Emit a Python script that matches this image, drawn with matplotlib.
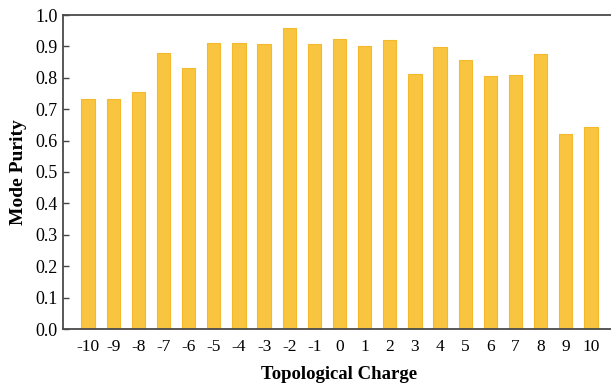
import matplotlib
matplotlib.use('Agg')
from matplotlib import pyplot as plt

# data
charges = list(range(-10, 11))
tick_labels = [str(c) for c in charges]
purity = [0.731, 0.732, 0.755, 0.878, 0.831, 0.910, 0.910, 0.909, 0.960, 0.909,
          0.924, 0.902, 0.920, 0.813, 0.898, 0.858, 0.805, 0.809, 0.876, 0.622, 0.644]

plt.rcParams['font.family'] = ['Liberation Serif', 'DejaVu Serif']

fig = plt.figure(figsize=(6.11, 3.87), dpi=100)
# axes runs a little past the right edge, as in the cropped original
ax = fig.add_axes([63 / 611, 58 / 387, 553 / 611, 314 / 387])

ax.bar(charges, purity, width=0.53, color='#f9c540', edgecolor='#f4b82c', linewidth=0.8)

ax.set_xlim(-11, 11)
ax.set_ylim(0, 1.0)
ax.set_xticks(charges)
ax.set_xticklabels(tick_labels)
ax.set_yticks([i / 10 for i in range(11)])
ax.set_yticklabels(['%.1f' % (i / 10) for i in range(11)])

ax.tick_params(axis='y', direction='in', length=4, width=1, color='#444444',
               labelsize=13, pad=4)
ax.tick_params(axis='x', length=0, labelsize=12.5, pad=7)

for s in ax.spines.values():
    s.set_color('#4a4a4a')
    s.set_linewidth(1.3)

ax.set_xlabel('Topological Charge', fontsize=13.5, fontweight='bold', labelpad=8)
ax.set_ylabel('Mode Purity', fontsize=14, fontweight='bold', labelpad=6)

fig.savefig('out.png', dpi=100)
